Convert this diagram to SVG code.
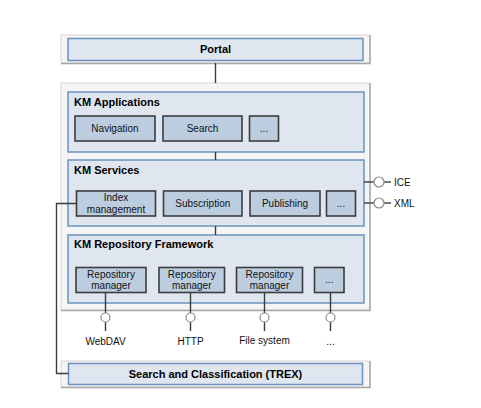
<svg xmlns="http://www.w3.org/2000/svg" width="481" height="408" viewBox="0 0 481 408">
<style>
.outer{fill:#f5f5f5;stroke:#d6d6d6;stroke-width:1}
.shadow{fill:none;stroke:#a8a8a8;stroke-width:1.5}
.layer{fill:#dfe6ef;stroke:#6a92bd;stroke-width:1.5}
.leaf{fill:#bccde0;stroke:#3c3c3c;stroke-width:1.6}
.title{font-family:"Liberation Sans",Arial,sans-serif;font-size:11px;font-weight:bold;fill:#000}
.lbl{font-family:"Liberation Sans",Arial,sans-serif;font-size:10px;fill:#111;text-anchor:middle}
.ext{font-family:"Liberation Sans",Arial,sans-serif;font-size:10px;fill:#111}
.wire{fill:none;stroke:#3c3c3c;stroke-width:1.4}
.port{fill:#fff;stroke:#8a8a8a;stroke-width:1.2}
</style>
<rect width="481" height="408" fill="#fff"/>

<g id="portal">
<rect class="outer" x="61" y="35" width="309" height="28"/>
<polyline class="shadow" points="370,35 370,63.5 61,63.5"/>
<rect class="layer" x="68" y="38.5" width="295" height="22"/>
<text class="title" x="215.5" y="53" text-anchor="middle">Portal</text>
</g>

<g id="km-main">
<rect class="outer" x="61" y="83" width="309" height="227"/>
<polyline class="shadow" points="370,83 370,310.5 61,310.5"/>
</g>

<g id="km-applications">
<rect class="layer" x="68" y="92" width="296" height="60"/>
<text class="title" x="74" y="106">KM Applications</text>
</g>
<g id="navigation"><rect class="leaf" x="75" y="116" width="80" height="25"/><text class="lbl" x="115" y="132">Navigation</text></g>
<g id="search"><rect class="leaf" x="163" y="116" width="79" height="25"/><text class="lbl" x="202.5" y="132">Search</text></g>
<g id="apps-more"><rect class="leaf" x="249.5" y="116" width="29" height="25"/><text class="lbl" x="264" y="132">...</text></g>

<g id="km-services">
<rect class="layer" x="68" y="160" width="296" height="66"/>
<text class="title" x="74" y="174">KM Services</text>
</g>
<g id="index-management"><rect class="leaf" x="76.5" y="191" width="79" height="25"/><text class="lbl" x="116" y="201">Index</text><text class="lbl" x="116" y="212.5">management</text></g>
<g id="subscription"><rect class="leaf" x="163.5" y="191" width="78.5" height="25"/><text class="lbl" x="202.75" y="207">Subscription</text></g>
<g id="publishing"><rect class="leaf" x="250" y="191" width="70" height="25"/><text class="lbl" x="285" y="207">Publishing</text></g>
<g id="services-more"><rect class="leaf" x="326.5" y="191" width="29" height="25"/><text class="lbl" x="341" y="207">...</text></g>

<g id="km-repository-framework">
<rect class="layer" x="68" y="235" width="296" height="68"/>
<text class="title" x="74" y="248">KM Repository Framework</text>
</g>
<g id="rm-webdav"><rect class="leaf" x="76" y="267.5" width="70" height="25"/><text class="lbl" x="111" y="277.5">Repository</text><text class="lbl" x="111" y="289">manager</text></g>
<g id="rm-http"><rect class="leaf" x="159" y="267.5" width="65.5" height="25"/><text class="lbl" x="191.75" y="277.5">Repository</text><text class="lbl" x="191.75" y="289">manager</text></g>
<g id="rm-fs"><rect class="leaf" x="236.5" y="267.5" width="66" height="25"/><text class="lbl" x="269.5" y="277.5">Repository</text><text class="lbl" x="269.5" y="289">manager</text></g>
<g id="rm-more"><rect class="leaf" x="314.5" y="267.5" width="29.5" height="25"/><text class="lbl" x="329.25" y="283">...</text></g>

<g id="trex">
<rect class="outer" x="61" y="361" width="309" height="26"/>
<polyline class="shadow" points="370,361 370,387.5 61,387.5"/>
<rect class="layer" x="68.5" y="363.5" width="294" height="21"/>
<text class="title" x="215.5" y="378" text-anchor="middle">Search and Classification (TREX)</text>
</g>

<g id="connectors">
<line class="wire" x1="215.5" y1="63" x2="215.5" y2="83"/>
<line class="wire" x1="215.5" y1="152" x2="215.5" y2="160"/>
<line class="wire" x1="215.5" y1="226" x2="215.5" y2="235"/>
<polyline class="wire" points="76.5,203.5 56.5,203.5 56.5,373.5 68.5,373.5"/>
<line class="wire" x1="364" y1="182" x2="374" y2="182"/>
<line class="wire" x1="384" y1="182" x2="391" y2="182"/>
<circle class="port" cx="379" cy="182" r="5"/>
<line class="wire" x1="364" y1="203" x2="374" y2="203"/>
<line class="wire" x1="384" y1="203" x2="391" y2="203"/>
<circle class="port" cx="379" cy="203" r="5"/>
<line class="wire" x1="105.5" y1="292.5" x2="105.5" y2="313"/>
<line class="wire" x1="105.5" y1="322" x2="105.5" y2="331"/>
<circle class="port" cx="105.5" cy="317.5" r="4.5"/>
<line class="wire" x1="190.5" y1="292.5" x2="190.5" y2="313"/>
<line class="wire" x1="190.5" y1="322" x2="190.5" y2="331"/>
<circle class="port" cx="190.5" cy="317.5" r="4.5"/>
<line class="wire" x1="264.5" y1="292.5" x2="264.5" y2="313"/>
<line class="wire" x1="264.5" y1="322" x2="264.5" y2="331"/>
<circle class="port" cx="264.5" cy="317.5" r="4.5"/>
<line class="wire" x1="330.5" y1="292.5" x2="330.5" y2="313"/>
<line class="wire" x1="330.5" y1="322" x2="330.5" y2="331"/>
<circle class="port" cx="330.5" cy="317.5" r="4.5"/>
</g>

<g id="labels">
<text class="ext" x="394" y="185.5">ICE</text>
<text class="ext" x="394" y="206.5">XML</text>
<text class="lbl" x="105.5" y="345">WebDAV</text>
<text class="lbl" x="190.5" y="345">HTTP</text>
<text class="lbl" x="264.5" y="344">File system</text>
<text class="lbl" x="330.5" y="345">...</text>
</g>
</svg>
